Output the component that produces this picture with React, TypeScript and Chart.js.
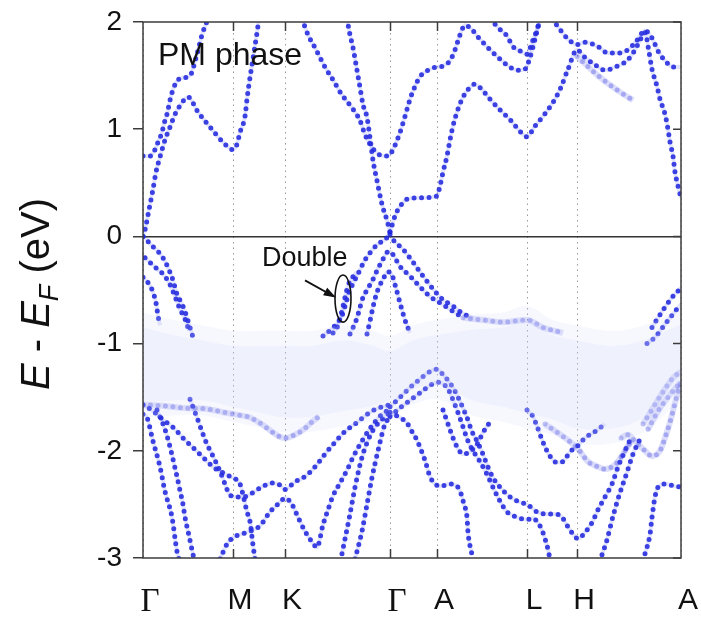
import { useEffect, useRef } from 'react';
import { Chart, registerables } from 'chart.js';

Chart.register(...registerables);

// ---- k-path (x axis) ----
const kLabels = ['Γ', 'M', 'K', 'Γ', 'A', 'L', 'H', 'A'];
const kPositions = [0, 90, 142, 247, 294, 384, 434, 538];
// ---- energy ticks (eV) ----
const yTicks = [2, 1, 0, -1, -2, -3];

// ---- bands: [k, E - EF (eV)] ----
const c1 = [[0, 0], [2, 0.06], [6, 0.25], [10, 0.44], [13, 0.6], [17, 0.74], [22, 0.9], [27, 1.02], [32, 1.14], [37, 1.22], [45, 1.3], [55, 1.16], [67, 1.02], [80, 0.88], [90, 0.81], [94, 0.86], [97, 0.97], [102, 1.12], [104, 1.28], [106, 1.42], [110, 1.66], [114, 1.9], [116, 2.03]];
const c2 = [[0, 0.75], [7, 0.75], [12, 0.81], [15, 0.88], [19, 0.97], [21, 1.05], [24, 1.14], [27, 1.27], [30, 1.37], [35, 1.46], [40, 1.48], [47, 1.5], [54, 1.7], [59, 1.88], [65, 2.03]];
const c3 = [[159, 2.03], [165, 1.88], [172, 1.76], [182, 1.58], [190, 1.46], [199, 1.32], [209, 1.2], [217, 1.08], [222, 0.95], [229, 0.83], [235, 0.77], [241, 0.75], [245, 0.75], [250, 0.81], [257, 0.97], [262, 1.12], [267, 1.28], [272, 1.4], [277, 1.49], [287, 1.56], [294, 1.58], [300, 1.59], [307, 1.64], [312, 1.74], [317, 1.88], [322, 1.97], [329, 1.93], [335, 1.86], [344, 1.77], [354, 1.68], [364, 1.6], [374, 1.55], [382, 1.56], [387, 1.67], [392, 1.84], [395, 1.95], [397, 2.03]];
const c4 = [[204, 2.03], [207, 1.88], [210, 1.76], [214, 1.55], [217, 1.39], [220, 1.23], [224, 1.11], [227, 0.92], [230, 0.71], [234, 0.52], [239, 0.3], [244, 0.15], [247, 0.04]];
const c5 = [[247, 0.04], [252, 0.19], [257, 0.28], [265, 0.35], [277, 0.36], [292, 0.37], [294, 0.38], [297, 0.47], [300, 0.6], [304, 0.75], [307, 0.9], [310, 1.03], [314, 1.16], [319, 1.28], [325, 1.37], [332, 1.42], [339, 1.37], [347, 1.28], [357, 1.18], [367, 1.09], [377, 0.98], [384, 0.93], [392, 1.03], [400, 1.12], [410, 1.25], [417, 1.37], [425, 1.56], [434, 1.74], [442, 1.67], [452, 1.6], [462, 1.55], [472, 1.58], [484, 1.64], [492, 1.74], [497, 1.83], [502, 1.9], [506, 1.72], [509, 1.56], [514, 1.4], [517, 1.28], [522, 1.14], [525, 1.0], [527, 0.88], [530, 0.75], [532, 0.6], [535, 0.47], [538, 0.36]];
const c6 = [[347, 2.03], [357, 1.93], [364, 1.87], [370, 1.77], [377, 1.73], [384, 1.7], [389, 1.81], [394, 1.93], [397, 2.03]];
const c7 = [[409, 2.03], [417, 1.93], [425, 1.84], [434, 1.79], [442, 1.81], [455, 1.77], [465, 1.71], [475, 1.71], [485, 1.74], [494, 1.83], [502, 1.92], [509, 1.85], [515, 1.73], [522, 1.64], [530, 1.58], [538, 1.58]];
const c7ghost = [[434, 1.68], [455, 1.5], [475, 1.36], [490, 1.27]];

const v1 = [[0, 0], [2, -0.01], [7, -0.07], [14, -0.13], [20, -0.2], [25, -0.29], [30, -0.41], [34, -0.54], [39, -0.63], [42, -0.7], [47, -0.85], [50, -0.94]];
const v2 = [[2, -0.2], [9, -0.26], [15, -0.31], [20, -0.35], [27, -0.45], [32, -0.56], [37, -0.68], [42, -0.77], [46, -0.88]];
const v3 = [[0, -0.38], [4, -0.42], [7, -0.46], [10, -0.52], [13, -0.62], [15, -0.74], [17, -0.83]];
const vh = [[180, -0.93], [189, -0.86], [195, -0.8], [199, -0.74], [203, -0.62], [206, -0.52], [209, -0.46], [215, -0.35], [222, -0.22], [229, -0.13], [235, -0.07], [242, -0.03], [247, 0.02]];
const vh2 = [[190, -0.9], [195, -0.83], [199, -0.69], [202, -0.57], [205, -0.46], [209, -0.39], [214, -0.33]];
const vi = [[207, -0.91], [210, -0.85], [214, -0.76], [217, -0.66], [220, -0.57], [224, -0.5], [230, -0.4], [235, -0.3], [239, -0.23], [244, -0.15], [247, -0.14], [250, -0.17], [257, -0.28], [267, -0.37], [277, -0.47], [287, -0.56], [297, -0.62], [307, -0.68], [317, -0.74]];
const vhR = [[247, 0.02], [250, -0.03], [260, -0.12], [270, -0.24], [280, -0.37], [290, -0.49], [300, -0.59], [310, -0.65], [320, -0.72], [330, -0.76]];
const vj = [[224, -0.91], [227, -0.79], [230, -0.66], [234, -0.52], [240, -0.4], [245, -0.33], [249, -0.36], [252, -0.45], [257, -0.62], [262, -0.78], [267, -0.9]];
const vL = [[320, -0.76], [340, -0.78], [360, -0.8], [384, -0.78], [400, -0.85], [420, -0.9]];
const va1 = [[509, -0.85], [515, -0.76], [522, -0.66], [529, -0.57], [535, -0.51], [538, -0.48]];
const va2 = [[504, -1.0], [512, -0.94], [522, -0.82], [532, -0.7], [538, -0.63]];

const vg = [[0, -1.57], [20, -1.58], [40, -1.6], [64, -1.61], [80, -1.64], [92, -1.66], [107, -1.69], [120, -1.76], [130, -1.83], [137, -1.87], [142, -1.88], [152, -1.85], [162, -1.79], [169, -1.73], [176, -1.68]];
const v4 = [[0, -1.57], [10, -1.63], [20, -1.71], [30, -1.78], [40, -1.88], [50, -1.97], [60, -2.06], [70, -2.15], [79, -2.2], [87, -2.24], [92, -2.26], [97, -2.31], [100, -2.41], [104, -2.57], [107, -2.66], [110, -2.88], [112, -3.01]];
const v5 = [[47, -1.52], [54, -1.69], [59, -1.82], [64, -1.94], [69, -2.03], [77, -2.19], [82, -2.31], [86, -2.4], [92, -2.43], [100, -2.43], [110, -2.39], [120, -2.33], [130, -2.3], [137, -2.32], [142, -2.36], [152, -2.29], [162, -2.24], [172, -2.15], [182, -2.03], [192, -1.92], [202, -1.82], [212, -1.75], [220, -1.69], [229, -1.63], [239, -1.59], [247, -1.57]];
const v6 = [[77, -3.01], [84, -2.87], [90, -2.81], [104, -2.76], [117, -2.7], [127, -2.57], [137, -2.48], [142, -2.44], [149, -2.5], [155, -2.62], [162, -2.75], [169, -2.85], [174, -2.9], [180, -2.69], [185, -2.55], [190, -2.42], [197, -2.3], [204, -2.18], [210, -2.06], [217, -1.94], [225, -1.82], [232, -1.73], [239, -1.66], [247, -1.61]];
const vc = [[199, -2.96], [207, -2.59], [212, -2.34], [219, -2.06], [227, -1.86], [232, -1.78], [240, -1.7], [247, -1.64]];
const vd = [[212, -3.01], [219, -2.75], [224, -2.5], [229, -2.25], [235, -2.0], [242, -1.75], [247, -1.69]];
const ve = [[0, -1.66], [4, -1.69], [10, -1.91], [17, -2.15], [22, -2.38], [29, -2.62], [34, -2.94], [36, -3.01]];
const vf = [[14, -1.62], [20, -1.75], [24, -1.86], [28, -2.0], [31, -2.12], [34, -2.24], [37, -2.37], [40, -2.5], [42, -2.62], [45, -2.75], [48, -2.88], [51, -3.01]];
const vm = [[247, -1.64], [255, -1.68], [264, -1.74], [269, -1.82], [274, -1.9], [278, -1.99], [282, -2.09], [287, -2.24], [292, -2.31], [298, -2.33], [306, -2.31], [314, -2.33], [318, -2.4], [321, -2.5], [324, -2.62], [325, -2.76], [329, -2.97]];
const vn1 = [[247, -1.59], [257, -1.5], [267, -1.41], [277, -1.33], [287, -1.26], [294, -1.24], [300, -1.29], [310, -1.41], [317, -1.54], [324, -1.69], [329, -1.82], [334, -1.91], [339, -2.01], [344, -2.13], [350, -2.25], [357, -2.34], [367, -2.43], [377, -2.48], [384, -2.5], [394, -2.57], [404, -2.59], [412, -2.59], [419, -2.62], [425, -2.71], [432, -2.8], [435, -2.82], [442, -2.76], [449, -2.67], [455, -2.55], [462, -2.43], [469, -2.31], [475, -2.15], [482, -2.0], [487, -1.9]];
const vn2 = [[247, -1.68], [257, -1.6], [267, -1.53], [277, -1.46], [287, -1.39], [295, -1.36], [304, -1.41], [312, -1.57], [319, -1.75], [325, -1.91], [330, -2.0], [337, -2.1], [344, -2.22], [350, -2.34], [357, -2.47], [364, -2.57], [374, -2.62], [384, -2.64], [390, -2.63], [394, -2.66], [398, -2.72], [402, -2.82], [405, -2.92], [407, -3.01]];
const vp = [[300, -1.62], [305, -1.75], [310, -1.88], [315, -1.98], [320, -2.03], [327, -2.01], [334, -1.94], [340, -1.83], [347, -1.73]];
const vk = [[384, -1.62], [390, -1.68], [394, -1.77], [400, -1.92], [407, -2.05], [414, -2.11], [420, -2.1], [427, -2.01], [434, -1.96], [442, -1.88], [452, -1.82], [462, -1.75]];
const vk2 = [[402, -1.75], [422, -1.88], [434, -1.97], [445, -2.1], [455, -2.15], [462, -2.17], [472, -2.13], [482, -2.0], [489, -1.9]];
const vq = [[478, -1.88], [485, -1.85], [492, -1.91], [502, -2.0], [509, -2.05], [517, -2.0], [522, -1.88], [528, -1.7], [533, -1.52], [538, -1.36]];
const vs = [[459, -2.97], [464, -2.83], [470, -2.61], [477, -2.39], [484, -2.2], [490, -2.03], [497, -1.89]];
const vr = [[502, -2.96], [507, -2.78], [509, -2.62], [512, -2.43], [515, -2.34], [522, -2.31], [532, -2.33], [538, -2.34]];
const vA1 = [[500, -1.75], [510, -1.6], [520, -1.45], [530, -1.32], [538, -1.26]];
const vA2 = [[505, -1.8], [515, -1.63], [525, -1.5], [532, -1.42], [538, -1.36]];

// ---- diffuse (smeared) spectral weight region ----
const hazeK = [0, 30, 60, 90, 120, 142, 170, 200, 230, 247, 270, 294, 330, 360, 384, 410, 434, 470, 500, 538];
const hazeTop = [-0.78, -0.85, -0.9, -0.95, -0.95, -0.95, -0.95, -0.9, -0.95, -1.0, -0.9, -0.85, -0.8, -0.78, -0.72, -0.85, -0.9, -0.95, -0.9, -0.75];
const hazeBot = [-1.62, -1.6, -1.6, -1.66, -1.72, -1.76, -1.75, -1.7, -1.65, -1.6, -1.5, -1.45, -1.6, -1.66, -1.72, -1.78, -1.86, -1.86, -1.76, -1.45];

const strongBands = [c1, c2, c3, c4, c5, c6, c7, v1, v2, v3, vh, vh2, vi, vhR, vj, va1, va2, v4, v5, v6, vc, vd, ve, vf, vm, vn1, vn2, vp, vk, vs, vr];
const weakBands = [c7ghost, vL, vg, vk2, vq, vA1, vA2];

const toXY = (arr) => arr.map(([x, y]) => ({ x, y }));

const dotted = (arr, alpha) => ({
  data: toXY(arr),
  showLine: true,
  pointRadius: 0,
  borderColor: `rgba(32,36,222,${alpha})`,
  borderWidth: 5,
  borderDash: [0, 7.5],
  borderCapStyle: 'round',
  cubicInterpolationMode: 'monotone',
  fill: false,
});

const glow = (arr, alpha, width) => ({
  data: toXY(arr),
  showLine: true,
  pointRadius: 0,
  borderColor: `rgba(60,70,225,${alpha})`,
  borderWidth: width,
  cubicInterpolationMode: 'monotone',
  fill: false,
});

const FONT = '"Liberation Sans", Arial, Helvetica, sans-serif';

const decor = {
  id: 'decor',
  afterDraw(chart) {
    const { ctx, chartArea: a, scales } = chart;
    const x = scales.x;
    const y = scales.y;
    ctx.save();
    // frame
    ctx.strokeStyle = '#3c3c3c';
    ctx.lineWidth = 1.5;
    ctx.strokeRect(a.left, a.top, a.right - a.left, a.bottom - a.top);
    // inward ticks
    ctx.beginPath();
    kPositions.slice(1, -1).forEach((v) => {
      const px = Math.round(x.getPixelForValue(v)) + 0.5;
      ctx.moveTo(px, a.top);
      ctx.lineTo(px, a.top + 9);
      ctx.moveTo(px, a.bottom);
      ctx.lineTo(px, a.bottom - 9);
    });
    yTicks.forEach((v) => {
      const py = y.getPixelForValue(v);
      ctx.moveTo(a.right, py);
      ctx.lineTo(a.right - 8, py);
    });
    ctx.stroke();

    // PM phase
    ctx.fillStyle = '#111';
    ctx.textBaseline = 'alphabetic';
    ctx.textAlign = 'left';
    ctx.font = `32px ${FONT}`;
    ctx.fillText('PM phase', x.getPixelForValue(15), y.getPixelForValue(1.6));

    // Double annotation
    ctx.font = `27px ${FONT}`;
    ctx.fillText('Double', x.getPixelForValue(119), y.getPixelForValue(-0.28));
    const ax0 = x.getPixelForValue(162), ay0 = y.getPixelForValue(-0.41);
    const ax1 = x.getPixelForValue(191), ay1 = y.getPixelForValue(-0.56);
    ctx.strokeStyle = '#111';
    ctx.lineWidth = 1.8;
    ctx.beginPath();
    ctx.moveTo(ax0, ay0);
    ctx.lineTo(ax1, ay1);
    ctx.stroke();
    const ang = Math.atan2(ay1 - ay0, ax1 - ax0);
    ctx.beginPath();
    ctx.moveTo(ax1 + 2, ay1 + 1);
    ctx.lineTo(ax1 - 11 * Math.cos(ang - 0.4), ay1 - 11 * Math.sin(ang - 0.4));
    ctx.lineTo(ax1 - 11 * Math.cos(ang + 0.4), ay1 - 11 * Math.sin(ang + 0.4));
    ctx.closePath();
    ctx.fillStyle = '#111';
    ctx.fill();
    const ex = x.getPixelForValue(200), ey = y.getPixelForValue(-0.58);
    const erx = x.getPixelForValue(208) - ex;
    const ery = y.getPixelForValue(-0.8) - ey;
    ctx.lineWidth = 1.6;
    ctx.beginPath();
    ctx.ellipse(ex, ey, erx, ery, 0, 0, Math.PI * 2);
    ctx.stroke();

    // y-axis title: E - E_F (eV)
    const cx = 49, cy = (a.top + a.bottom) / 2 + 4;
    const parts = [
      { t: 'E', f: `italic 40px ${FONT}`, dy: 0 },
      { t: ' - ', f: `40px ${FONT}`, dy: 0 },
      { t: 'E', f: `italic 40px ${FONT}`, dy: 0 },
      { t: 'F', f: `italic 27px ${FONT}`, dy: 9 },
      { t: ' (eV)', f: `40px ${FONT}`, dy: 0 },
    ];
    let total = 0;
    parts.forEach((p) => { ctx.font = p.f; p.w = ctx.measureText(p.t).width; total += p.w; });
    ctx.translate(cx, cy);
    ctx.rotate(-Math.PI / 2);
    ctx.fillStyle = '#111';
    let pos = -total / 2;
    parts.forEach((p) => { ctx.font = p.f; ctx.fillText(p.t, pos, p.dy); pos += p.w; });
    ctx.restore();
  },
};

export default function App() {
  const ref = useRef(null);
  useEffect(() => {
    const datasets = [
      {
        data: hazeK.map((k, i) => ({ x: k, y: hazeTop[i] + 0.07 })),
        showLine: true, pointRadius: 0, borderWidth: 0, tension: 0.4,
        fill: '+1', backgroundColor: 'rgba(205,210,248,0.16)',
      },
      {
        data: hazeK.map((k, i) => ({ x: k, y: hazeBot[i] - 0.07 })),
        showLine: true, pointRadius: 0, borderWidth: 0, tension: 0.4, fill: false,
      },
      {
        data: hazeK.map((k, i) => ({ x: k, y: hazeTop[i] - 0.07 })),
        showLine: true, pointRadius: 0, borderWidth: 0, tension: 0.4,
        fill: '+1', backgroundColor: 'rgba(205,210,248,0.2)',
      },
      {
        data: hazeK.map((k, i) => ({ x: k, y: hazeBot[i] + 0.07 })),
        showLine: true, pointRadius: 0, borderWidth: 0, tension: 0.4, fill: false,
      },
      ...weakBands.map((b) => glow(b, 0.18, 6)),
      ...strongBands.map((b) => glow(b, 0.14, 4)),
      ...weakBands.map((b) => dotted(b, 0.3)),
      ...strongBands.map((b) => dotted(b, 0.88)),
    ];
    const chart = new Chart(ref.current, {
      type: 'scatter',
      data: { datasets },
      options: {
        animation: false,
        responsive: false,
        devicePixelRatio: 1,
        layout: { padding: { left: 0, top: 22, right: 20, bottom: 0 } },
        plugins: { legend: { display: false }, tooltip: { enabled: false }, title: { display: false } },
        scales: {
          x: {
            type: 'linear',
            min: 0,
            max: 538,
            afterBuildTicks: (s) => { s.ticks = kPositions.map((v) => ({ value: v })); },
            afterFit: (s) => { s.height = 61; s.paddingLeft = 0; s.paddingRight = 0; },
            ticks: {
              autoSkip: false,
              maxRotation: 0,
              padding: 25,
              labelOffset: 7,
              color: '#111',
              callback: (v) => kLabels[kPositions.indexOf(v)],
              font: (c) => (c.index === 0 || c.index === 3)
                ? { family: '"Liberation Serif", "Times New Roman", serif', size: 33 }
                : { family: FONT, size: 30 },
            },
            grid: { drawOnChartArea: true, drawTicks: false, color: 'rgba(120,120,120,0.75)', lineWidth: 1 },
            border: { display: false, dash: [1.5, 4] },
          },
          y: {
            type: 'linear',
            min: -3,
            max: 2,
            afterBuildTicks: (s) => { s.ticks = yTicks.map((v) => ({ value: v })); },
            afterFit: (s) => { s.width = 143; s.paddingTop = 0; s.paddingBottom = 0; },
            ticks: {
              padding: 11,
              color: '#111',
              font: { family: FONT, size: 28 },
              callback: (v) => String(v),
            },
            grid: {
              drawOnChartArea: true,
              drawTicks: true,
              tickLength: 10,
              tickColor: '#3c3c3c',
              tickWidth: 1.5,
              lineWidth: 1.5,
              color: (c) => (c.tick && c.tick.value === 0 ? '#333' : 'rgba(0,0,0,0)'),
            },
            border: { display: false },
          },
        },
      },
      plugins: [decor],
    });
    return () => chart.destroy();
  }, []);
  return (
    <div style={{ position: 'fixed', left: 0, top: 0, width: 701, height: 619, background: '#fff' }}>
      <canvas ref={ref} width={701} height={619} style={{ display: 'block' }} />
    </div>
  );
}
